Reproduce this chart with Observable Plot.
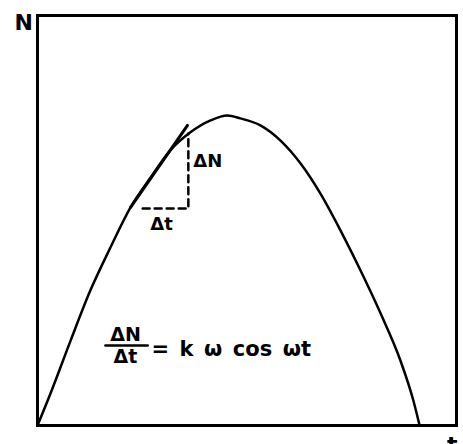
<!DOCTYPE html>
<html>
<head>
<meta charset="utf-8">
<script src="https://cdn.jsdelivr.net/npm/d3@7"></script>
<script src="https://cdn.jsdelivr.net/npm/@observablehq/plot@0.6"></script>
<style>
  html, body { margin: 0; padding: 0; background: #fff; }
  svg { display: block; }
</style>
</head>
<body>
<div id="chart"></div>
<script>
// Curve N(t), hand-sketched (t and N in 0–100 units)
const curveT = [0, 3.1, 7.9, 12.6, 17.4, 22.2, 27.0, 31.7, 36.5, 41.3, 45.3, 48.4, 53.2, 58.0, 62.8, 67.5, 72.3, 77.1, 81.9, 86.6, 89.7, 91.2];
const curveN = [0, 7.8, 20.7, 32.9, 43.4, 53.2, 60.5, 67.1, 71.5, 74.4, 75.6, 74.9, 73.2, 69.5, 63.9, 56.6, 47.6, 37.8, 27.3, 15.9, 6.1, 0];

// Tangent segment
const tangentT = [22.2, 35.8];
const tangentN = [53.2, 73.2];

// Dashed ΔN / Δt construction
const deltaT = [25.1, 36.0];
const deltaN = [52.9, 71.2];

// Small labels
const labelDN = {s: "ΔN", t: 37.2, n: 64.4};
const labelDT = {s: "Δt", t: 29.6, n: 49.0};

// Axis letters
const axisLabels = ["N", "t"];
const axisT = [-3.3, 99.0];
const axisN = [98.3, -2.7];

// Formula
const fracNum = "ΔN", fracDen = "Δt";
const fracBarT = [16.2, 26.3];
const fracCenterT = 21.0;
const fracNumN = 22.2, fracBarN = 19.5, fracDenN = 16.8;
const formulaRest = "=\u2002k\u2002ω\u2002cos\u2002ωt";
const formulaT = 27.2, formulaN = 18.6;

const curve = curveT.map((t, i) => ({t, n: curveN[i]}));
const font = "DejaVu Sans";

const chart = Plot.plot({
  width: 463,
  height: 444,
  marginLeft: 37,
  marginRight: 7,
  marginTop: 15,
  marginBottom: 19,
  style: {background: "#fff", overflow: "visible"},
  x: {domain: [0, 100], axis: null},
  y: {domain: [0, 100], axis: null},
  marks: [
    Plot.frame({stroke: "#000", strokeWidth: 3}),
    Plot.line(curve, {x: "t", y: "n", curve: "monotone-x", stroke: "#000", strokeWidth: 2.5}),
    Plot.line([0, 1].map(i => ({t: tangentT[i], n: tangentN[i]})), {x: "t", y: "n", stroke: "#000", strokeWidth: 3}),
    Plot.line([{t: deltaT[0], n: deltaN[0]}, {t: deltaT[1], n: deltaN[0]}, {t: deltaT[1], n: deltaN[1]}],
      {x: "t", y: "n", stroke: "#000", strokeWidth: 2.5, strokeDasharray: "7,5"}),
    Plot.text([labelDN], {x: "t", y: "n", text: "s", textAnchor: "start", fontSize: 18, fontWeight: "bold", fontFamily: font, fill: "#000"}),
    Plot.text([labelDT], {x: "t", y: "n", text: "s", fontSize: 18, fontWeight: "bold", fontFamily: font, fill: "#000"}),
    Plot.text([{s: axisLabels[0], t: axisT[0], n: axisN[0]}],
      {x: "t", y: "n", text: "s", fontSize: 22, fontWeight: "bold", fontFamily: font, fill: "#000"}),
    Plot.text([{s: axisLabels[1], t: axisT[1], n: axisN[1]}],
      {x: "t", y: "n", text: "s", lineAnchor: "top", fontSize: 22, fontWeight: "bold", fontFamily: font, fill: "#000"}),
    Plot.text([{s: fracNum, n: fracNumN}, {s: fracDen, n: fracDenN}],
      {x: () => fracCenterT, y: "n", text: "s", fontSize: 19, fontWeight: "bold", fontFamily: font, fill: "#000"}),
    Plot.line([{t: fracBarT[0], n: fracBarN}, {t: fracBarT[1], n: fracBarN}], {x: "t", y: "n", stroke: "#000", strokeWidth: 2.5}),
    Plot.text([{s: formulaRest}], {x: () => formulaT, y: () => formulaN, text: "s", textAnchor: "start", fontSize: 21, fontWeight: "bold", fontFamily: font, fill: "#000"})
  ]
});
document.getElementById("chart").appendChild(chart);
</script>
</body>
</html>
